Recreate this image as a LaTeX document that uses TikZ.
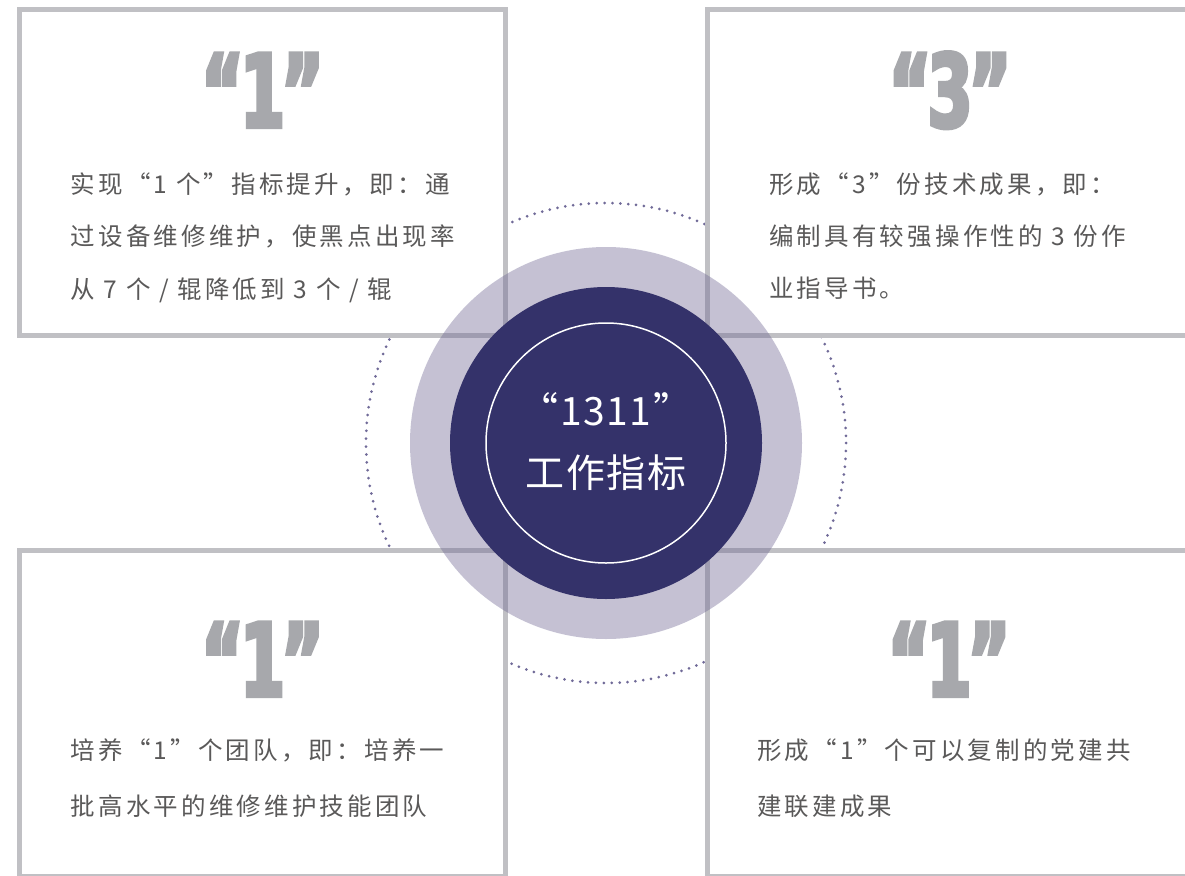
\documentclass[tikz,border=0pt]{standalone}
\usepackage{fontspec}
\setmainfont{Noto Sans CJK SC}
\newfontfamily\numfont[FakeStretch=0.7,FakeBold=4,LetterSpace=-3]{DejaVu Sans Condensed Bold}
\newfontfamily\bodyfont[LetterSpace=13]{Noto Sans CJK SC}
\newfontfamily\hubfont[LetterSpace=4]{Noto Sans CJK SC}
\usetikzlibrary{positioning}
\definecolor{framegray}{RGB}{192,192,196}
\definecolor{numgray}{RGB}{167,168,172}
\definecolor{textgray}{RGB}{90,89,89}
\definecolor{navy}{RGB}{52,50,106}
\definecolor{halocol}{RGB}{110,102,147}
\definecolor{dotcol}{RGB}{112,106,152}
\tikzset{frame/.style = {draw=framegray, line width=5pt, fill=white, rectangle,
                         minimum width=486pt, minimum height=326pt, inner sep=0pt},
         bignum/.style = {text=numgray, font=\numfont\fontsize{101}{101}\selectfont, inner sep=0pt, anchor=base},
         body/.style = {text=textgray, font=\bodyfont\fontsize{24.5}{24.5}\selectfont, inner sep=0pt, anchor=base west},
         halo/.style = {circle, fill=halocol, fill opacity=0.4, minimum size=392pt, inner sep=0pt},
         core/.style = {circle, fill=navy, minimum size=312pt, inner sep=0pt},
         ring/.style = {circle, draw=white, line width=1.5pt, minimum size=240pt, inner sep=0pt},
         hubtext/.style = {text=white, font=\hubfont\fontsize{39}{39}\selectfont, inner sep=0pt, anchor=base},
         dotring/.style = {draw=dotcol, line width=3pt, line cap=round, dash pattern=on 0pt off 7.9pt},
}

\begin{document}
\begin{tikzpicture}[x=1pt, y=-1pt]
  \useasboundingbox (0,0) rectangle (1185,875);
  \fill[white] (0,0) rectangle (1185,875);

  \coordinate (mid) at (606,443);
  \draw[dotring] (mid) circle[radius=240];

  % four panels
  \node[frame] (TL) at (262.5,172.5) {};
  \node[frame] (TR) at (950,172.5) {};
  \node[frame] (BL) at (262.5,713.5) {};
  \node[frame] (BR) at (950,713.5) {};

  % big figures
  \node[bignum] (numTL) at (262.5,127) {“1”};
  \node[bignum] (numTR) at (950,127) {“3”};
  \node[bignum] (numBL) at (262.5,696) {“1”};
  \node[bignum] (numBR) at (949,696) {“1”};

  % panel texts
  \node[body] (tlA) at (70.5,193) {实现“1 个”指标提升，即：通};
  \node[body] (tlB) at (70.5,245.8) {过设备维修维护，使黑点出现率};
  \node[body] (tlC) at (70.5,298.5) {从 7 个 / 辊降低到 3 个 / 辊};

  \node[body] (trA) at (769,193.5) {形成“3”份技术成果，即：};
  \node[body] (trB) at (769,245.5) {编制具有较强操作性的 3 份作};
  \node[body] (trC) at (769,297) {业指导书。};

  \node[body] (blA) at (70.5,759.5) {培养“1”个团队，即：培养一};
  \node[body] (blB) at (70.5,815.5) {批高水平的维修维护技能团队};

  \node[body] (brA) at (757,759.5) {形成“1”个可以复制的党建共};
  \node[body] (brB) at (757,815.5) {建联建成果};

  % centre
  \node[halo] (HALO) at (mid) {};
  \node[core] (CORE) at (mid) {};
  \node[ring] (RING) at (mid) {};
  \node[hubtext] (hubA) at (606,425.5) {“1311”};
  \node[hubtext] (hubB) at (606,487.5) {工作指标};

\end{tikzpicture}
\end{document}
